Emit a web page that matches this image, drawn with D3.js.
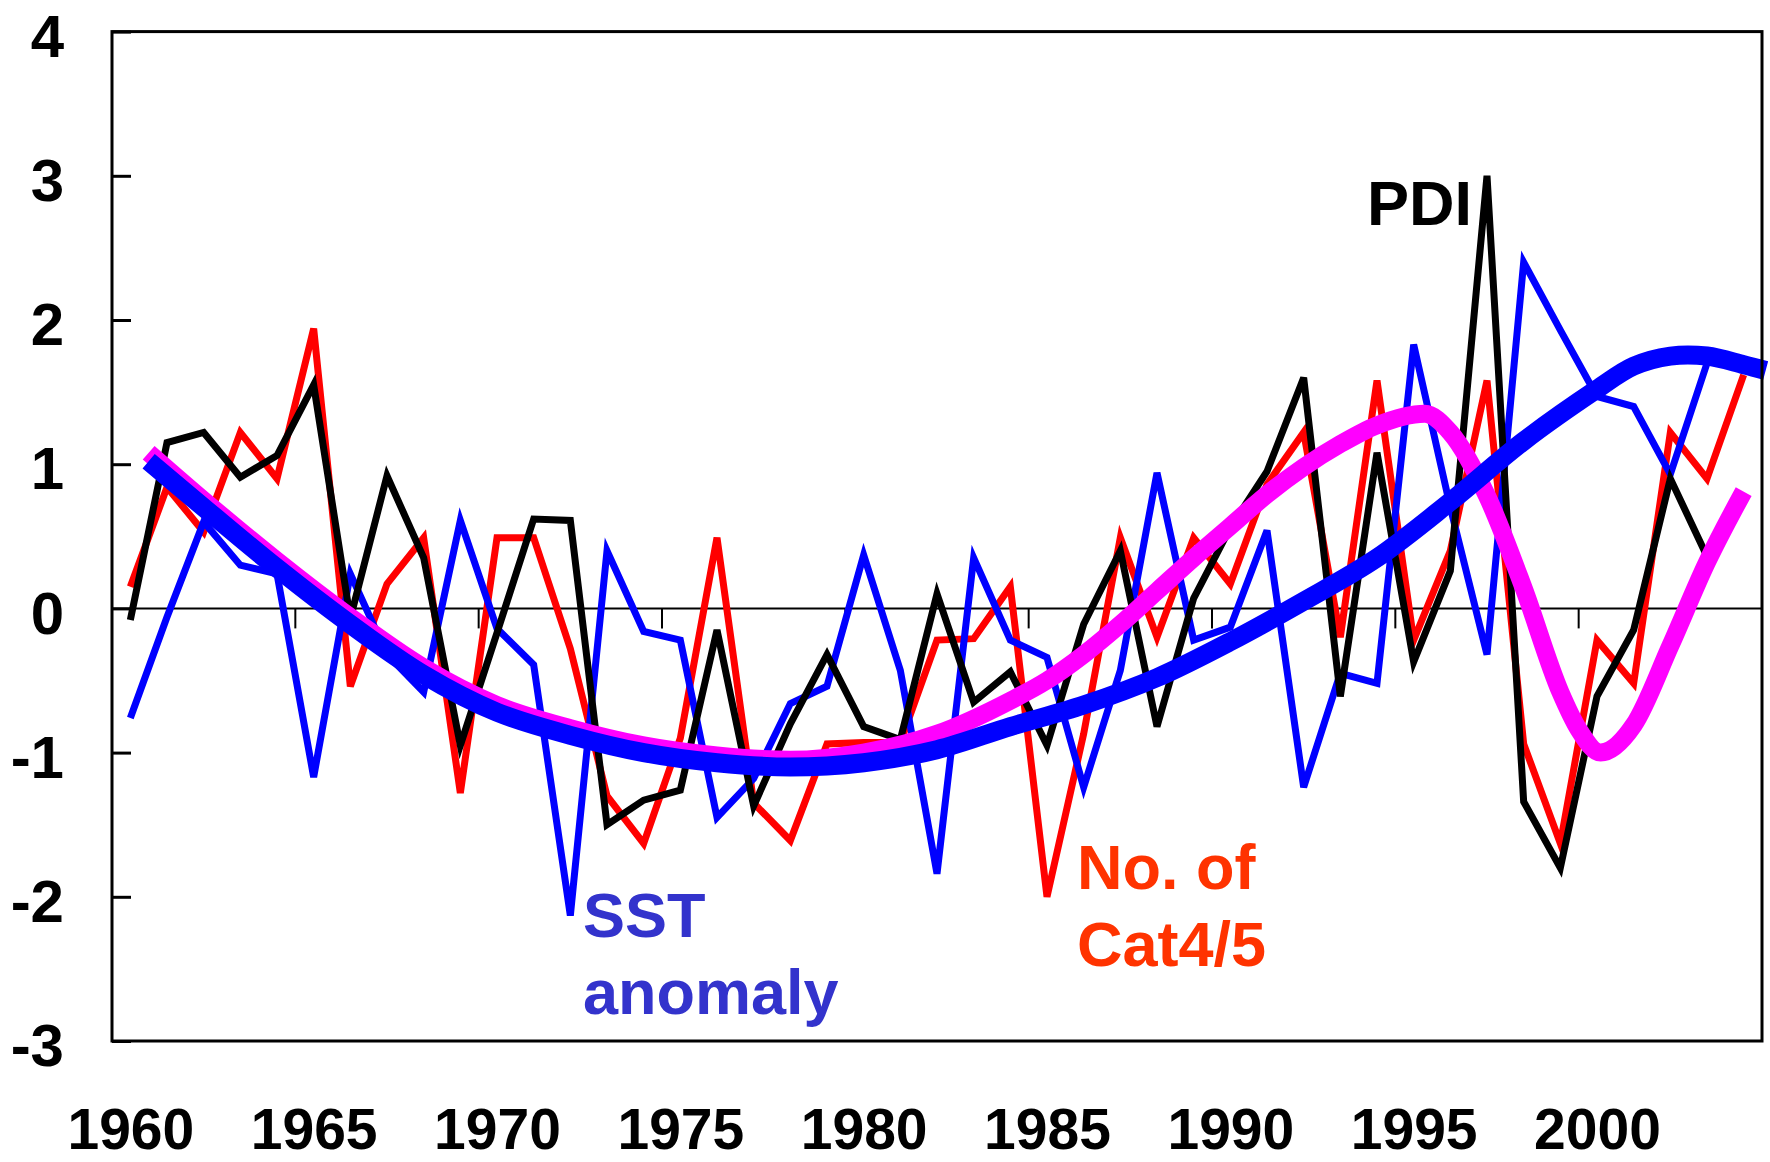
<!DOCTYPE html>
<html>
<head>
<meta charset="utf-8">
<script src="https://cdn.jsdelivr.net/npm/d3@7"></script>
<style>
  html, body { margin: 0; padding: 0; background: #ffffff; }
  svg { display: block; }
  text { font-family: "Liberation Sans", Arial, Helvetica, sans-serif; font-weight: bold; }
</style>
</head>
<body>
<svg id="chart" width="1770" height="1162"></svg>
<script>
// Annual normalized anomalies, 1960 onwards
const years = d3.range(1960, 2005);

// Power Dissipation Index (black)
const pdi = [-0.08, 1.15, 1.22, 0.91, 1.06, 1.55, -0.07, 0.92, 0.35, -0.95,
             -0.17, 0.62, 0.61, -1.50, -1.33, -1.26, -0.15, -1.37, -0.80, -0.32,
             -0.82, -0.91, 0.10, -0.65, -0.44, -0.95, -0.11, 0.40, -0.82, 0.07,
             0.56, 0.95, 1.60, -0.61, 1.08, -0.37, 0.26, 3.00, -1.34, -1.80,
             -0.61, -0.15, 0.90, 0.36];

// Number of category 4/5 hurricanes (red)
const cat45 = [0.15, 0.84, 0.53, 1.22, 0.90, 1.94, -0.54, 0.17, 0.49, -1.28,
               0.49, 0.49, -0.28, -1.30, -1.63, -0.90, 0.49, -1.35, -1.61, -0.94,
               -0.93, -0.93, -0.22, -0.21, 0.15, -2.00, -0.87, 0.49, -0.20, 0.49,
               0.17, 0.86, 1.22, -0.20, 1.58, -0.22, 0.40, 1.58, -0.94, -1.63,
               -0.22, -0.52, 1.22, 0.90, 1.62];

// Sea surface temperature anomaly (blue)
const sst = [-0.76, -0.06, 0.60, 0.30, 0.24, -1.17, 0.24, -0.32, -0.58, 0.61,
             -0.14, -0.39, -2.13, 0.40, -0.16, -0.22, -1.45, -1.18, -0.66, -0.54,
             0.37, -0.43, -1.84, 0.35, -0.22, -0.34, -1.24, -0.43, 0.94, -0.22,
             -0.13, 0.54, -1.24, -0.45, -0.52, 1.83, 0.70, -0.32, 2.40, 1.93,
             1.47, 1.40, 0.93, 1.70];

// Smoothed SST trend (thick blue)
const sstTrendX = [1960.5, 1962, 1964, 1966, 1968, 1970, 1972, 1974, 1976, 1978,
                   1980, 1982, 1984, 1986, 1988, 1990, 1992, 1994, 1996, 1998,
                   2000, 2001, 2002, 2003, 2004, 2004.6];
const sstTrend = [1.02, 0.70, 0.28, -0.11, -0.46, -0.72, -0.88, -1.00, -1.07, -1.10,
                  -1.07, -0.98, -0.82, -0.67, -0.48, -0.23, 0.05, 0.35, 0.74, 1.16,
                  1.52, 1.68, 1.75, 1.75, 1.69, 1.65];

// Smoothed Cat4/5 trend (thick magenta)
const catTrendX = [1960.5, 1962, 1964, 1966, 1968, 1970, 1972, 1974, 1976, 1978,
                   1980, 1982, 1984, 1985, 1986, 1987, 1988, 1989, 1990, 1991,
                   1992, 1993, 1994, 1995.3, 1996, 1997, 1998, 1999, 1999.5,
                   2000.1, 2001, 2002, 2003, 2004];
const catTrend = [1.08, 0.75, 0.33, -0.06, -0.41, -0.67, -0.83, -0.95, -1.02, -1.05,
                  -1.00, -0.87, -0.64, -0.50, -0.32, -0.11, 0.12, 0.35, 0.57, 0.79,
                  0.98, 1.14, 1.27, 1.35, 1.22, 0.78, 0.14, -0.58, -0.84,
                  -1.00, -0.81, -0.26, 0.32, 0.81];

const yTicks = d3.range(-3, 5);
const xLabelYears = d3.range(1960, 2001, 5);
const zeroTickYears = d3.range(1964.5, 2000, 5);

const plotLeft = 112, plotRight = 1762, plotTop = 31.6, plotBottom = 1041;

const x = d3.scaleLinear().domain([1959.5, 2004.5]).range([plotLeft, plotRight]);
const y = d3.scaleLinear().domain([-3, 4]).range([plotBottom, plotTop]);

const svg = d3.select("#chart");
svg.append("rect").attr("width", 1770).attr("height", 1162).attr("fill", "#fff");

// zero reference line with small downward ticks
svg.append("line")
  .attr("x1", plotLeft).attr("x2", plotRight)
  .attr("y1", y(0)).attr("y2", y(0))
  .attr("stroke", "#000").attr("stroke-width", 2);
svg.append("g").selectAll("line").data(zeroTickYears).join("line")
  .attr("x1", d => x(d)).attr("x2", d => x(d))
  .attr("y1", y(0)).attr("y2", y(0) + 20)
  .attr("stroke", "#000").attr("stroke-width", 2);

// annual series
const line = (vals) => d3.line()
  .x((d, i) => x(years[i]))
  .y(d => y(d))(vals);

const series = [
  { vals: cat45, color: "#ff0000" },
  { vals: sst, color: "#0000ff" },
  { vals: pdi, color: "#000000" }
];
svg.append("g").selectAll("path").data(series).join("path")
  .attr("d", d => line(d.vals))
  .attr("fill", "none")
  .attr("stroke", d => d.color)
  .attr("stroke-width", 7)
  .attr("stroke-linejoin", "miter");

// smoothed trends
const smooth = (xs, vals, curve) => d3.line()
  .curve(curve)
  .x((d, i) => x(xs[i]))
  .y(d => y(d))(vals);

svg.append("path")
  .attr("d", smooth(catTrendX, catTrend, d3.curveMonotoneX))
  .attr("fill", "none").attr("stroke", "#ff00ff").attr("stroke-width", 18);
svg.append("path")
  .attr("d", smooth(sstTrendX, sstTrend, d3.curveCatmullRom.alpha(0.5)))
  .attr("fill", "none").attr("stroke", "#0000ff").attr("stroke-width", 19);

// frame
svg.append("rect")
  .attr("x", plotLeft).attr("y", plotTop)
  .attr("width", plotRight - plotLeft).attr("height", plotBottom - plotTop)
  .attr("fill", "none").attr("stroke", "#000").attr("stroke-width", 3);

// y axis
const yAxis = d3.axisLeft(y).tickValues(yTicks).tickFormat(d => String(d))
  .tickSizeInner(-19).tickSizeOuter(0).tickPadding(48);
const gy = svg.append("g").attr("transform", `translate(${plotLeft},0)`).call(yAxis);
gy.select(".domain").remove();
gy.selectAll(".tick line").attr("stroke", "#000").attr("stroke-width", 3);
gy.selectAll(".tick text")
  .attr("fill", "#000")
  .attr("dy", "0.41em")
  .style("font-size", "60px")
  .style("font-family", "'Liberation Sans', Arial, sans-serif")
  .style("font-weight", "bold");

// x axis labels
const xAxis = d3.axisBottom(x).tickValues(xLabelYears).tickFormat(d => String(d))
  .tickSize(0).tickPadding(68);
const gx = svg.append("g").attr("transform", `translate(0,${plotBottom})`).call(xAxis);
gx.select(".domain").remove();
gx.selectAll(".tick text")
  .attr("fill", "#000")
  .style("font-size", "57px")
  .style("font-family", "'Liberation Sans', Arial, sans-serif")
  .style("font-weight", "bold");

// series annotations
const notes = [
  { lines: ["PDI"], x: 1367, y: 225, color: "#000000" },
  { lines: ["SST", "anomaly"], x: 583, y: 937, color: "#3333cc" },
  { lines: ["No. of", "Cat4/5"], x: 1077, y: 889, color: "#ff3300" }
];
notes.forEach(n => {
  const t = svg.append("text")
    .attr("x", n.x).attr("y", n.y)
    .attr("fill", n.color)
    .style("font-size", "63px");
  n.lines.forEach((s, i) => {
    t.append("tspan").attr("x", n.x).attr("dy", i === 0 ? 0 : 77).text(s);
  });
});
</script>
</body>
</html>
